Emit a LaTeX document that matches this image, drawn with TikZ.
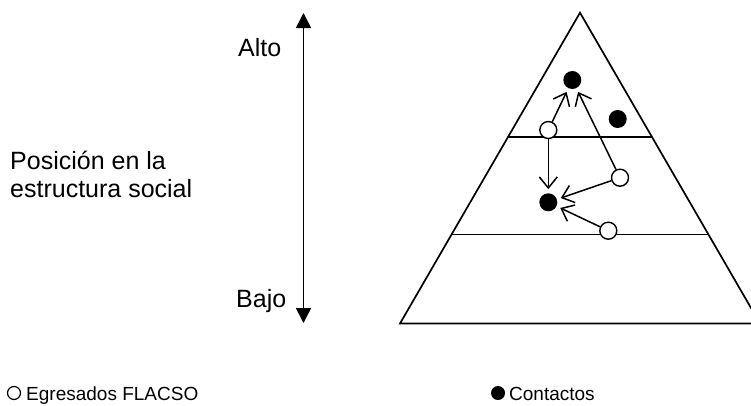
\documentclass[tikz,border=0pt]{standalone}
\usepackage{fontspec}
\setmainfont{Liberation Sans}
\usetikzlibrary{arrows.meta}
\begin{document}
\begin{tikzpicture}[x=1pt,y=-1pt,
  lbl/.style={anchor=base west,inner sep=0pt,font=\fontsize{25}{30}\selectfont},
  leg/.style={anchor=base west,inner sep=0pt,font=\fontsize{19}{22}\selectfont},
  wdot/.style={circle,draw,fill=white,line width=1.4pt,minimum size=17pt,inner sep=0pt},
  bdot/.style={circle,fill=black,minimum size=18pt,inner sep=0pt},
  legw/.style={circle,draw,fill=white,line width=1.2pt,minimum size=13pt,inner sep=0pt},
  legb/.style={circle,fill=black,minimum size=14pt,inner sep=0pt},
  link/.style={line width=1.5pt,-{Straight Barb[length=11pt,width=18pt,line width=1.5pt]},shorten >=4pt},
  edge/.style={line width=1.7pt},
  axis/.style={line width=1.6pt,{Triangle[length=15pt,width=15pt]}-{Triangle[length=15pt,width=15pt]}},
]
\useasboundingbox (0,0) rectangle (751,405);
% pyramid
\begin{scope}
\clip (0,0) rectangle (751,405);
\coordinate (apex) at (580,12.7);
\coordinate (bl) at (400,323.5);
\coordinate (br) at (760,323.5);
\draw[edge,line join=miter] (bl) -- (apex) -- (br) -- cycle;
\end{scope}
\coordinate (l1a) at (507.9,137);
\coordinate (l1b) at (652.1,137);
\coordinate (l2a) at (451.3,234.5);
\coordinate (l2b) at (708.7,234.5);
\draw[edge] (l1a) -- (l1b);
\draw[edge] (l2a) -- (l2b);
% dots
\node[bdot] (bt) at (572.3,80) {};
\node[bdot] (br2) at (617.7,119) {};
\node[bdot] (bm) at (548.3,202.3) {};
\node[wdot] (wt) at (548.3,130) {};
\node[wdot] (wr) at (620,177.7) {};
\node[wdot] (wb) at (608.3,230.7) {};
% arrows
\draw[link] (wt) -- (bt);
\draw[link] (wr) -- (bt);
\draw[link] (wt) -- (bm);
\draw[link] (wr) -- (bm);
\draw[link] (wb) -- (bm);
% axis
\coordinate (axtop) at (303.5,13);
\coordinate (axbot) at (303.5,323);
\draw[axis] (axbot) -- (axtop);
% labels
\node[lbl] (alto) at (238,56) {Alto};
\node[lbl] (bajo) at (236,307) {Bajo};
\node[lbl] (pos1) at (10,169) {Posición en la};
\node[lbl] (pos2) at (10,197) {estructura social};
% legend
\node[legw] (lw) at (14,393) {};
\node[leg] (legtxt1) at (26,400) {Egresados FLACSO};
\node[legb] (lb) at (498,393) {};
\node[leg] (legtxt2) at (509,400) {Contactos};
\end{tikzpicture}
\end{document}
